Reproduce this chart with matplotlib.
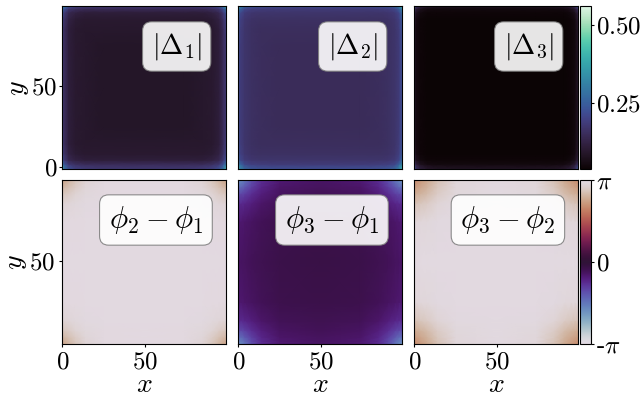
import numpy as np
import matplotlib
matplotlib.use("Agg")
import matplotlib.pyplot as plt
import seaborn as sns

plt.rcParams['font.family'] = ['cmr10', 'DejaVu Sans']
plt.rcParams['mathtext.fontset'] = 'cm'
plt.rcParams['axes.formatter.use_mathtext'] = True
plt.rcParams['axes.unicode_minus'] = False

# sample positions from the wall to the middle of the box
pos = [0, 1.5, 4, 8, 14, 25, 49.5]

# one corner of each map, the other three are mirror images
d1 = [[.40, .29, .23, .20, .19, .18, .18],
      [.29, .23, .18, .16, .15, .15, .15],
      [.23, .18, .14, .125, .115, .115, .115],
      [.20, .16, .125, .105, .10, .10, .10],
      [.19, .15, .115, .10, .095, .095, .095],
      [.18, .15, .115, .10, .095, .09, .09],
      [.18, .15, .115, .10, .095, .09, .09]]
d2 = [[.42, .32, .27, .24, .23, .225, .225],
      [.32, .26, .21, .195, .19, .185, .185],
      [.27, .21, .185, .175, .17, .17, .17],
      [.24, .195, .175, .165, .16, .16, .16],
      [.23, .19, .17, .16, .155, .155, .155],
      [.225, .185, .17, .16, .155, .15, .15],
      [.225, .185, .17, .16, .155, .15, .15]]
d3 = [[.24, .16, .12, .10, .09, .085, .085],
      [.16, .11, .075, .06, .055, .055, .055],
      [.12, .075, .055, .045, .045, .045, .045],
      [.10, .06, .045, .042, .04, .04, .04],
      [.09, .055, .045, .04, .04, .04, .04],
      [.085, .055, .045, .04, .04, .04, .04],
      [.085, .055, .045, .04, .04, .04, .04]]
p21 = [[2.4, 2.45, 2.58, 2.75, 2.95, 3.08, 3.1],
       [2.45, 2.48, 2.6, 2.77, 2.95, 3.08, 3.1],
       [2.58, 2.6, 2.68, 2.82, 2.98, 3.08, 3.1],
       [2.75, 2.77, 2.82, 2.92, 3.02, 3.09, 3.1],
       [2.95, 2.95, 2.98, 3.02, 3.07, 3.1, 3.1],
       [3.08, 3.08, 3.08, 3.09, 3.1, 3.1, 3.1],
       [3.1, 3.1, 3.1, 3.1, 3.1, 3.1, 3.1]]
p31 = [[-1.85, -1.75, -1.5, -1.15, -.8, -.55, -.45],
       [-1.75, -1.65, -1.45, -1.1, -.78, -.52, -.43],
       [-1.5, -1.45, -1.25, -1.0, -.72, -.48, -.4],
       [-1.15, -1.1, -1.0, -.82, -.62, -.42, -.35],
       [-.8, -.78, -.72, -.62, -.48, -.35, -.3],
       [-.55, -.52, -.48, -.42, -.35, -.27, -.24],
       [-.45, -.43, -.4, -.35, -.3, -.24, -.2]]
p32 = [[2.15, 2.2, 2.3, 2.45, 2.7, 3.0, 3.1],
       [2.2, 2.22, 2.32, 2.47, 2.7, 3.0, 3.1],
       [2.3, 2.32, 2.4, 2.52, 2.75, 3.0, 3.1],
       [2.45, 2.47, 2.52, 2.62, 2.82, 3.03, 3.1],
       [2.7, 2.7, 2.75, 2.82, 2.95, 3.07, 3.1],
       [3.0, 3.0, 3.0, 3.03, 3.07, 3.1, 3.1],
       [3.1, 3.1, 3.1, 3.1, 3.1, 3.1, 3.1]]

mag_maps = [d1, d2, d3]
phase_maps = [p21, p31, p32]
mag_labels = [r'$|\Delta_1|$', r'$|\Delta_2|$', r'$|\Delta_3|$']
phase_labels = [r'$\phi_2-\phi_1$', r'$\phi_3-\phi_1$', r'$\phi_3-\phi_2$']
mag_ticks = [0.25, 0.50]
mag_ticklabels = ['$0.25$', '$0.50$']
phase_ticks = [-np.pi, 0, np.pi]
phase_ticklabels = [r'-$\pi$', '$0$', r'$\pi$']

W, H = 642, 398
fs = 18


def box(x0, y0, x1, y1):
    # pixel box from the top left corner to axes rectangle
    return [x0 / W, 1 - y1 / H, (x1 - x0) / W, (y1 - y0) / H]


def mirror(q):
    q = np.array(q)
    top = np.hstack([q, q[:, -2::-1]])
    return np.vstack([top, top[-2::-1]])


grid = np.array(pos + [99 - p for p in pos[-2::-1]])
# top row starts a bit below zero
grid_top = grid.copy()
grid_top[0] = -1.6

fig = plt.figure(figsize=(W / 100, H / 100), dpi=100)
lefts = [62.3, 238.3, 414.3]
rows = [(6, 169.3), (180.3, 343.7)]

for i in range(3):
    ax = fig.add_axes(box(lefts[i], rows[0][0], lefts[i] + 163.4, rows[0][1]))
    m1 = ax.pcolormesh(grid, grid_top, mirror(mag_maps[i]), cmap='mako',
                       vmin=0.04, vmax=0.56, shading='gouraud')
    ax.set_xlim(0, 99)
    ax.set_ylim(-1.6, 99)
    ax.set_xticks([])
    if i == 0:
        ax.set_yticks([0, 50])
        ax.set_yticklabels(['$0$', '$50$'], fontsize=fs)
        ax.set_ylabel('$y$', fontsize=fs + 2, labelpad=0)
    else:
        ax.set_yticks([])
    ax.tick_params(length=2.5, width=0.8, pad=1)
    ax.text(0.70, 0.752, mag_labels[i], transform=ax.transAxes, ha='center', va='center', fontsize=fs + 2,
            bbox=dict(boxstyle='round,pad=0.33', fc='white', ec='0.5', alpha=0.9, lw=0.8))

    ax = fig.add_axes(box(lefts[i], rows[1][0], lefts[i] + 163.4, rows[1][1]))
    m2 = ax.pcolormesh(grid, grid, mirror(phase_maps[i]), cmap='twilight',
                       vmin=-np.pi, vmax=np.pi, shading='gouraud')
    ax.set_xlim(0, 99)
    ax.set_ylim(0, 99)
    ax.set_xticks([0, 50])
    ax.set_xticklabels(['$0$', '$50$'], fontsize=fs)
    ax.set_xlabel('$x$', fontsize=fs + 2, labelpad=-1)
    if i == 0:
        ax.set_yticks([50])
        ax.set_yticklabels(['$50$'], fontsize=fs)
        ax.set_ylabel('$y$', fontsize=fs + 2, labelpad=0)
    else:
        ax.set_yticks([])
    ax.tick_params(length=2.5, width=0.8, pad=3)
    ax.text(0.573, 0.757, phase_labels[i], transform=ax.transAxes, ha='center', va='center', fontsize=fs + 4,
            bbox=dict(boxstyle='round,pad=0.3', fc='white', ec='0.5', alpha=0.9, lw=0.8))

cax1 = fig.add_axes(box(580.3, rows[0][0], 591, rows[0][1]))
cb1 = fig.colorbar(m1, cax=cax1, ticks=mag_ticks)
cb1.set_ticklabels(mag_ticklabels, fontsize=fs)
cax2 = fig.add_axes(box(580.3, rows[1][0], 591, rows[1][1]))
cb2 = fig.colorbar(m2, cax=cax2, ticks=phase_ticks)
cb2.set_ticklabels(phase_ticklabels, fontsize=fs)
for cb in (cb1, cb2):
    cb.ax.tick_params(length=2.5, width=0.8, pad=1)

fig.savefig('out.png', dpi=100)
